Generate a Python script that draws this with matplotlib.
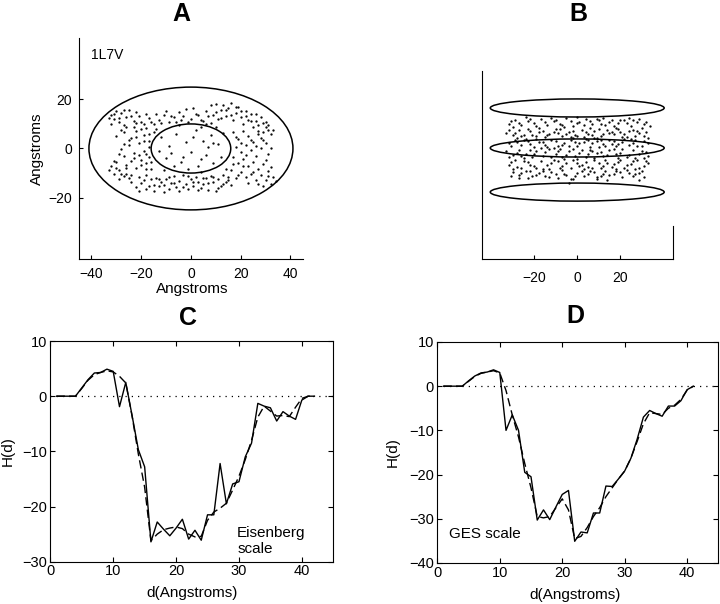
import matplotlib
matplotlib.use('Agg')
import matplotlib.pyplot as plt
from matplotlib.patches import Ellipse

plt.rcParams['font.family'] = ['Liberation Sans', 'DejaVu Sans']
plt.rcParams['font.size'] = 10

# ---- panel A: atom positions seen from the top (Angstroms) ----
A_x = [-30, -32, -28, -31, -29, -26, -27, -33, -25, -23, -21, -19, -20, -17, -15, -13, -11, -9, -7, -5,
       -4, -2, 0, 1, 3, 5, 6, 8, 9, 10, 11, 12, 13, 14, 15, 16, 17, 18, 19, 20,
       21, 22, 23, 24, 25, 26, 27, 28, 30, 29, 31, 32, 30,
       -30, -27, -24, -22, -19, -17, -21, -25, -28, -23, -19, -17, -20, -24, -27, -30, -32, -29, -26, -22,
       -18, -31, -27, -24, -21, -18, -16, -26, -22, -18, -15, -24, -20, -16, -29, -17, -21,
       -21, -18, -15, -13, -11, -9, -14, -12, -10, -8, -7, -6, -5, -3, -2, 0, 1, 2, 3, 5,
       6, 7, 8, 9, 10, 11, 12, 13, 14, 15, 16, -1, 4,
       17, 19, 21, 23, 25, 27, 29, 18, 20, 22, 24, 26, 28, 17, 19, 21, 23, 25, 27, 29,
       31, 33, 30, 32, 28, 26, 24, 22, 20, 18, 29, 31, 16,
       -12, -9, -10, -6, -4, -2, 0, 2, 3, 5, 6, 8, 9, 11, 12, -7, -13, 13, 4, -1, 7]
A_y = [15.2, 13.8, 14.5, 11.9, 10.6, 12.8, 9.4, 12.5, 15.5, 11.2, 13.3, 10.1, 7.8, 12.4, 9.9, 11.8, 13.6, 10.7, 12.9, 14.8,
       11.4, 15.9, 12.2, 16.3, 13.5, 11.1, 15.2, 17.6, 13.8, 18.2, 11.9, 15.7, 17.9, 13.2, 16.4, 18.4, 11.4, 14.6, 17.1, 12.7,
       9.9, 15.3, 11.6, 13.9, 8.8, 11.2, 9.5, 12.8, 8.9, 6.6, 7.5, 5.8, 10.8,
       5.2, 6.9, 4.4, 7.3, 5.6, 3.2, 2.1, 1.3, -0.4, -1.8, -0.9, -3.3, -4.6, -5.2, -3.1, -5.4, -7.3, -8.6, -8.1, -7.9,
       -8.4, -10.2, -11.3, -10.6, -11.7, -10.9, -8.2, 8.9, 10.2, 8.4, 6.6, -13.7, -14.2, -12.6, -12.5, 0.8, -2.8,
       -17.5, -16.4, -17.2, -15.1, -17.6, -16.3, -11.9, -13.7, -12.3, -14.2, -11.2, -15.8, -13.1, -10.9, -14.4, -12.6, -15.3, -11.5, -13.8, -14.6,
       -12.2, -16.9, -11.3, -13.6, -17.2, -12.4, -15.1, -10.8, -13.5, -11.7, -14.9, -16.6, -16.2,
       6.8, 3.9, 7.2, 5.1, 2.8, 5.9, 3.3, 0.7, -1.4, 1.6, -0.8, -2.9, 0.4, -3.6, -6.1, -4.2, -7.3, -5.4, -8.2, -6.3,
       -9.1, -11.6, -12.8, -14.4, -10.7, -12.9, -10.3, -11.8, -9.4, -12.1, -15.2, -2.2, -8.7,
       4.5, 1.2, -3.8, 6.1, -5.6, 2.7, -1.5, 7.4, -7.2, 3.1, -2.8, 5.5, -5.9, 1.8, -3.4, -7.3, -1.1, 6.2, 8.8, -8.5, 0.5]
A_more = [(-31, 14.1), (-29, 12.3), (-27, 15.8), (-24, 13.1), (-22, 15.0), (-18, 14.2), (-16, 10.8), (-14, 13.9),
          (-12, 10.4), (-10, 15.1), (-8, 13.3), (-6, 10.9), (-3, 13.2), (-1, 10.6), (2, 14.1), (4, 11.6), (7, 13.1),
          (8, 10.4), (10, 14.7), (12, 12.6), (14, 15.8), (16, 13.6), (18, 16.9), (20, 15.3), (22, 13.1), (24, 11.2),
          (26, 14.1), (27, 7.2), (29, 10.2), (31, 9.6), (33, 7.4), (28, 4.2), (30, 2.1), (32, 0.3), (26, 0.9),
          (24, 3.6), (22, -2.6), (20, 2.4), (18, 4.8), (30, -4.8), (32, -7.6), (34, -13.1), (31, -11.4), (27, -14.6),
          (25, -9.6), (23, -13.9), (21, -7.1), (19, -10.7), (17, -6.2), (15, -12.9), (13, -14.4), (11, -16.1),
          (9, -11.8), (7, -14.1), (5, -11.9), (3, -16.8), (1, -13.5), (-1, -11.3), (-3, -15.7), (-5, -17.4),
          (-7, -13.9), (-9, -11.6), (-11, -14.8), (-13, -12.6), (-15, -14.7), (-17, -15.3), (-19, -12.8),
          (-22, -15.6), (-25, -12.1), (-28, -10.3), (-30, -7.9), (-33, -8.8), (-31, -5.2), (-29, -2.1), (-26, -6.7),
          (-23, -3.9), (-20, -6.6), (-18, -2.1), (-16, -5.6), (-19, 2.9), (-22, 4.6), (-25, 3.3), (-27, 1.9),
          (-23, 8.7), (-20, 10.9), (-17, 6.1), (-28, 7.6), (-32, 9.9), (-26, -10.4), (-18, -5.9), (-11, -8.9),
          (4, -9.6), (10, 8.6), (-14, 7.9), (14, -8.3), (-5, 9.4), (6, 9.9), (-8, -1.9), (1, 4.6), (9, 2.3),
          (-3, -3.3), (4, -4.4)]
ring_outer = (41, 25)   # semi-axes of the outer ellipse
ring_inner = (16, 10)   # semi-axes of the inner ellipse

# ---- panel B: side view ----
B_x = [-32, -29, -26, -23, -20, -17, -14, -11, -8, -5, -2, 1, 4, 7, 10, 13, 16, 19, 22, 25, 28, 31,
       -30, -18, -6, 6, 18, 30, -24, -12, 0, 12, 24, 34,
       -33, -30, -27, -25, -22, -19, -16, -13, -10, -7, -4, -1, 2, 5, 8, 11, 14, 17, 20, 23, 26, 29, 32,
       -28, -15, -3, 9, 21, 33, -9, 3, 15, 27,
       -32, -29, -26, -23, -20, -18, -15, -12, -9, -6, -3, 0, 3, 6, 9, 12, 15, 18, 21, 24, 27, 30, 33,
       -24, -11, 4, 16, -1, 10, 25,
       -33, -30, -27, -24, -21, -19, -16, -13, -10, -7, -4, -1, 2, 5, 8, 11, 14, 17, 20, 23, 26, 29, 32,
       -25, -8, 7, 19, 31, -17, 0,
       -31, -28, -25, -22, -19, -17, -14, -11, -8, -5, -2, 1, 4, 7, 10, 13, 16, 19, 22, 25, 28, 31,
       -30, -13, 3, 18, 33, -6, 12, 27,
       -30, -27, -24, -21, -18, -15, -12, -9, -6, -3, 0, 3, 6, 9, 12, 15, 18, 21, 24, 27, 30,
       -4, 29, -23, 14]
B_y = [11.2, 13.1, 10.5, 12.4, 11.8, 13.6, 10.9, 12.7, 11.3, 13.9, 10.2, 12.1, 13.4, 11.0, 12.8, 10.6, 13.2, 11.5, 12.9, 10.4, 12.2, 11.1,
       9.6, 9.3, 9.8, 9.1, 9.5, 9.2, 14.2, 14.0, 14.3, 14.1, 13.8, 10.3,
       7.1, 5.9, 8.3, 6.2, 7.7, 5.4, 8.1, 6.4, 8.6, 5.7, 7.4, 6.0, 8.4, 6.7, 7.9, 5.5, 8.2, 6.3, 7.6, 5.2, 8.5, 6.8, 7.4,
       4.8, 5.1, 4.9, 4.6, 5.0, 4.7, 6.9, 5.3, 6.9, 5.6,
       2.1, 3.8, 1.4, 3.1, 0.6, 2.7, 1.2, 3.6, 0.9, 2.4, 3.9, 1.1, 2.9, 0.4, 3.3, 1.7, 3.8, 0.8, 2.6, 1.3, 3.5, 0.7, 2.4,
       4.2, 0.2, 4.4, 1.9, 3.0, 0.3, 4.1,
       -1.3, -3.2, -0.8, -2.6, -4.1, -1.5, -3.7, -0.6, -2.9, -4.4, -1.2, -3.5, -0.9, -2.7, -4.6, -1.8, -3.4, -0.5, -2.3, -4.2, -1.1, -3.0, -1.9,
       -4.8, -0.3, -1.5, -4.7, -4.5, -0.2, -4.9,
       -6.4, -8.7, -5.9, -7.8, -9.4, -6.2, -8.1, -5.6, -9.2, -7.1, -5.4, -8.6, -6.3, -9.5, -7.0, -5.8, -8.9, -6.6, -9.1, -7.4, -5.5, -8.2,
       -9.8, -9.9, -9.7, -9.6, -6.9, -5.2, -8.4, -9.9,
       -11.3, -12.6, -10.8, -13.2, -11.7, -12.9, -11.0, -13.8, -12.1, -14.5, -11.4, -12.8, -10.6, -13.3, -11.9, -12.4, -10.9, -13.6, -11.5, -12.3, -10.7,
       -16.2, -14.8, -14.1, -14.9]
B_more = [(-31, 12.6), (-27, 11.7), (-22, 13.5), (-19, 10.1), (-15, 12.3), (-10, 13.1), (-7, 10.6), (-3, 12.4),
          (0, 11.5), (3, 10.8), (6, 12.6), (9, 13.6), (11, 11.2), (15, 11.9), (17, 10.3), (20, 13.1), (23, 11.4),
          (26, 12.8), (29, 13.3), (32, 12.1),
          (-32, 8.4), (-29, 7.0), (-26, 5.8), (-23, 8.9), (-21, 6.1), (-18, 7.3), (-14, 5.9), (-11, 7.6), (-8, 8.8),
          (-5, 6.3), (-2, 8.1), (0, 5.6), (4, 7.2), (7, 5.9), (10, 8.7), (12, 6.6), (16, 7.5), (19, 8.8), (22, 6.4),
          (24, 8.1), (28, 7.9), (31, 5.8),
          (-31, 0.9), (-28, 2.6), (-25, 3.7), (-22, 1.8), (-19, 4.1), (-16, 2.9), (-14, 0.5), (-10, 3.1), (-7, 1.6),
          (-4, 0.8), (-2, 4.5), (1, 2.3), (5, 3.6), (7, 2.1), (8, 4.8), (11, 3.9), (13, 0.9), (17, 3.1), (19, 1.9),
          (22, 4.4), (26, 2.3), (28, 1.1), (31, 3.4),
          (-32, -4.1), (-28, -2.1), (-26, -3.9), (-22, -0.9), (-20, -3.0), (-15, -1.9), (-12, -4.2), (-9, -1.6),
          (-5, -3.1), (-2, -0.6), (1, -2.2), (4, -4.0), (6, -0.8), (9, -2.4), (12, -3.9), (15, -0.9), (18, -2.8),
          (21, -0.7), (24, -3.3), (27, -4.5), (30, -1.3), (33, -3.6),
          (-32, -7.8), (-29, -5.6), (-26, -9.1), (-23, -6.4), (-20, -8.3), (-16, -9.6), (-12, -7.2), (-9, -6.1),
          (-7, -8.3), (-3, -9.4), (0, -6.8), (2, -7.7), (5, -9.0), (8, -5.7), (11, -9.3), (14, -6.9), (17, -7.6),
          (20, -5.4), (23, -8.0), (26, -6.2), (29, -9.2), (32, -5.9),
          (-31, -12.9), (-26, -11.6), (-22, -10.5), (-19, -12.4), (-16, -10.8), (-13, -13.5), (-10, -11.9),
          (-7, -10.4), (-5, -12.7), (-1, -13.1), (2, -10.9), (5, -12.2), (8, -11.0), (11, -12.8), (13, -10.5),
          (17, -12.1), (20, -11.2), (23, -10.3), (26, -13.2), (29, -11.8), (-2, -14.2), (-27, -14.0), (9, -14.5),
          (31, -13.6)]
disc_y = [18.6, 0.0, -20.5]   # centres of the three discs
disc_half = (40.5, 4.2)

# ---- panels C and D: hydrophobicity profiles ----
C_d = list(range(1, 43))
C_solid = [0, 0, 0, 0, 1.5, 3.0, 4.2, 4.3, 4.9, 4.5, -1.9, 2.5, -3.5, -9.7, -12.8, -26.4, -22.8, -24.1, -25.3, -23.9,
           -22.3, -25.9, -24.3, -26.1, -21.5, -21.5, -12.2, -19.5, -15.9, -15.5, -11.0, -8.5, -1.3, -1.8, -2.1, -4.5,
           -2.8, -3.6, -4.2, -0.7, 0, 0]
C_dash = [0, 0, 0, 0, 1.4, 2.9, 3.9, 4.3, 4.6, 4.4, 3.6, 2.4, -3.6, -10.5, -16.5, -26.2, -25.0, -24.2, -23.9, -23.7,
          -24.0, -25.0, -25.5, -25.4, -22.5, -21.0, -20.3, -19.4, -17.0, -14.5, -11.5, -8.0, -3.8, -1.8, -2.7, -3.6,
          -3.5, -3.7, -2.0, -0.4, 0, 0]

D_d = list(range(1, 42))
D_solid = [0, 0, 0, 0, 1.2, 2.3, 3.0, 3.2, 3.7, 3.1, -10.0, -6.5, -10.0, -19.5, -20.5, -30.3, -28.0, -30.2, -27.3, -24.5,
           -23.6, -35.1, -33.0, -33.2, -28.7, -28.7, -22.6, -22.7, -21.0, -19.2, -16.3, -12.0, -7.0, -5.5, -6.2, -6.8,
           -4.5, -4.5, -3.3, -0.8, 0]
D_dash = [0, 0, 0, 0, 1.1, 2.2, 2.9, 3.2, 3.5, 3.0, -1.0, -6.5, -11.5, -17.5, -23.0, -29.5, -29.8, -29.5, -27.5, -25.5,
          -28.0, -34.5, -34.0, -32.0, -29.5, -27.5, -25.0, -23.0, -21.0, -19.2, -16.3, -12.5, -8.5, -6.0, -6.2, -6.4,
          -5.0, -4.3, -3.0, -0.9, 0]

fig = plt.figure(figsize=(7.2, 6.04), dpi=100)

# ---------------- A ----------------
axA = fig.add_axes([0.1097, 0.5712, 0.311, 0.3659])
axA.plot(A_x + [p[0] for p in A_more], A_y + [p[1] for p in A_more], 'k.', markersize=1.3)
axA.add_patch(Ellipse((0, 0), 2 * ring_outer[0], 2 * ring_outer[1], fill=False, lw=1.1, color='k'))
axA.add_patch(Ellipse((0, 0), 2 * ring_inner[0], 2 * ring_inner[1], fill=False, lw=1.1, color='k'))
axA.set_xlim(-45, 45)
axA.set_ylim(-45, 45)
axA.set_xticks([-40, -20, 0, 20, 40])
axA.set_yticks([-20, 0, 20])
axA.spines['top'].set_visible(False)
axA.spines['right'].set_visible(False)
axA.tick_params(direction='in', length=3)
axA.tick_params(axis='x', pad=6)
axA.tick_params(axis='y', pad=5)
axA.text(-40, 38, '1L7V', fontsize=10, va='center', ha='left')
axA.set_xlabel('Angstroms', fontsize=11)
axA.set_ylabel('Angstroms', fontsize=11)
axA.xaxis.set_label_coords(0.504, -0.105)
axA.yaxis.set_label_coords(-0.157, 0.5)

# ---------------- B ----------------
axB = fig.add_axes([0.669, 0.5712, 0.2657, 0.3113])
axB.plot(B_x + [p[0] for p in B_more], B_y + [p[1] for p in B_more], 'k.', markersize=1.3)
for cy in disc_y:
    axB.add_patch(Ellipse((0, cy), 2 * disc_half[0], 2 * disc_half[1], fill=False, lw=1.1, color='k'))
axB.set_xlim(-44.5, 44.6)
axB.set_ylim(-51.6, 35.8)
axB.set_xticks([-20, 0, 20])
axB.set_yticks([])
axB.spines['top'].set_visible(False)
axB.spines['right'].set_bounds(-51.6, -36.3)
axB.tick_params(direction='in', length=3, pad=9)

# ---------------- C and D ----------------
def profile(ax, d, solid, dash, ylim, yticks):
    ax.plot([0, 45], [0, 0], color='k', linestyle=(0, (1, 4)), lw=0.9)
    ax.plot(d, dash, color='k', lw=1.0, dashes=(6, 3))
    ax.plot(d, solid, color='k', lw=1.0)
    ax.set_xlim(0, 45)
    ax.set_ylim(*ylim)
    ax.set_xticks([0, 10, 20, 30, 40])
    ax.set_yticks(yticks)
    ax.tick_params(direction='in', length=3.5, top=True, right=True, labelsize=10.5)
    ax.tick_params(axis='x', pad=2)
    ax.tick_params(axis='y', pad=2.5)
    ax.set_xlabel('d(Angstroms)', fontsize=11)
    ax.set_ylabel('H(d)', fontsize=11)

axC = fig.add_axes([0.0699, 0.070, 0.393, 0.3654])
profile(axC, C_d, C_solid, C_dash, (-30, 10), [-30, -20, -10, 0, 10])
axC.xaxis.set_label_coords(0.5, -0.112)
axC.yaxis.set_label_coords(-0.125, 0.5)
axC.text(29.7, -23.6, 'Eisenberg\nscale', fontsize=11, va='top', ha='left', linespacing=1.1)

axD = fig.add_axes([0.6074, 0.068, 0.3903, 0.3658])
profile(axD, D_d, D_solid, D_dash, (-40, 10), [-40, -30, -20, -10, 0, 10])
axD.xaxis.set_label_coords(0.49, -0.112)
axD.yaxis.set_label_coords(-0.133, 0.5)
axD.text(1.9, -33.4, 'GES scale', fontsize=11, va='center', ha='left')

# panel letters
for lab, x, y in [('A', 181, 14), ('B', 578, 14), ('C', 188, 318), ('D', 575, 316)]:
    fig.text(x / 720, 1 - y / 604, lab, fontsize=18, fontweight='bold', ha='center', va='center')

fig.savefig('out.png', dpi=100)
